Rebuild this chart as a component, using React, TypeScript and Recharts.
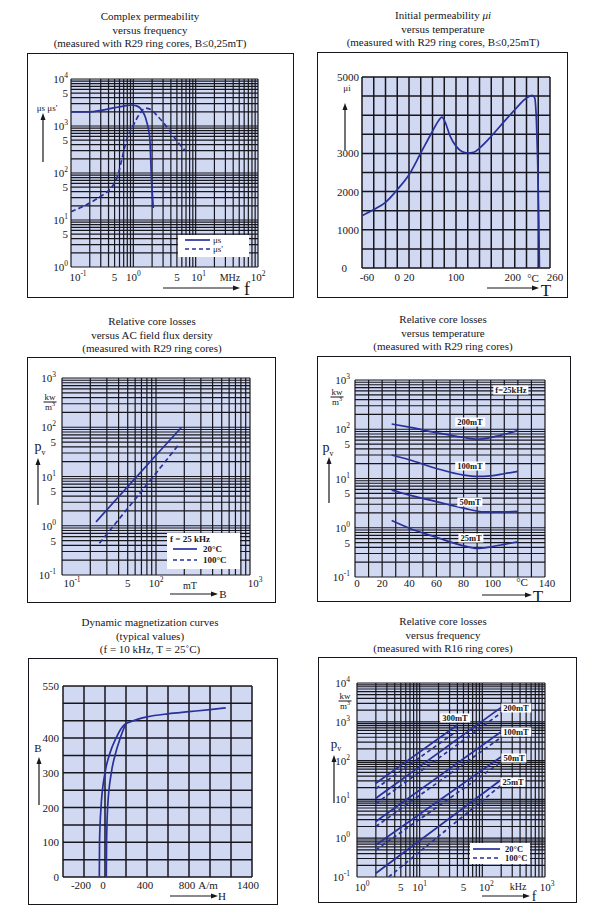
import React from 'react'
import { LineChart, Line, XAxis, YAxis, CartesianGrid } from 'recharts'

const SERIF = '"Liberation Serif", "DejaVu Serif", serif'
const INK = '#16161c'
const BLUE = '#28319b'
const PAPER = '#d1d8f2'

type Lab = { v: number; t: string; s?: string; dx?: number }
type Box = { l: number; t: number; r: number; b: number }

// ---------- complex permeability vs frequency (f in MHz) ----------
const PERM_F_MUS1 = [
  { f: 0.1, mu: 2000 }, { f: 0.2, mu: 2000 }, { f: 0.3, mu: 2150 }, { f: 0.5, mu: 2450 },
  { f: 0.7, mu: 2650 }, { f: 0.94, mu: 2800 }, { f: 1.1, mu: 2700 }, { f: 1.29, mu: 2400 },
  { f: 1.45, mu: 1900 }, { f: 1.55, mu: 1580 }, { f: 1.66, mu: 1150 }, { f: 1.74, mu: 890 },
  { f: 1.85, mu: 470 }, { f: 1.9, mu: 200 }, { f: 1.95, mu: 80 }, { f: 2.02, mu: 35 },
  { f: 2.09, mu: 18 },
]
const PERM_F_MUS2 = [
  { f: 0.1, mu: 15 }, { f: 0.2, mu: 23 }, { f: 0.3, mu: 32 }, { f: 0.42, mu: 45 },
  { f: 0.5, mu: 62 }, { f: 0.58, mu: 100 }, { f: 0.65, mu: 190 }, { f: 0.78, mu: 500 },
  { f: 0.98, mu: 970 }, { f: 1.28, mu: 1870 }, { f: 1.55, mu: 2400 }, { f: 1.9, mu: 2250 },
  { f: 2.37, mu: 1700 }, { f: 3.0, mu: 1200 }, { f: 3.9, mu: 760 }, { f: 5.0, mu: 480 },
  { f: 6.8, mu: 300 },
]
const PERM_F_XLABELS: Lab[] = [
  { v: 0.1, t: '10', s: '-1', dx: 7 }, { v: 0.5, t: '5' }, { v: 1, t: '10', s: '0' },
  { v: 5, t: '5' }, { v: 10, t: '10', s: '1', dx: 3 }, { v: 100, t: '10', s: '2' },
]
const PERM_F_YLABELS: Lab[] = [
  { v: 10000, t: '10', s: '4' }, { v: 5000, t: '5' }, { v: 1000, t: '10', s: '3' },
  { v: 500, t: '5' }, { v: 100, t: '10', s: '2' }, { v: 50, t: '5' },
  { v: 10, t: '10', s: '1' }, { v: 5, t: '5' }, { v: 1, t: '10', s: '0' },
]

// ---------- initial permeability vs temperature (°C) ----------
const PERM_T_CURVE = [
  { t: -60, mu: 1370 }, { t: -40, mu: 1530 }, { t: -20, mu: 1720 }, { t: 0, mu: 2050 },
  { t: 20, mu: 2440 }, { t: 40, mu: 3010 }, { t: 60, mu: 3580 }, { t: 70, mu: 3850 },
  { t: 76, mu: 3950 }, { t: 82, mu: 3800 }, { t: 90, mu: 3450 }, { t: 100, mu: 3190 },
  { t: 110, mu: 3050 }, { t: 120, mu: 3010 }, { t: 130, mu: 3030 }, { t: 140, mu: 3140 },
  { t: 160, mu: 3450 }, { t: 180, mu: 3800 }, { t: 200, mu: 4140 }, { t: 220, mu: 4450 },
  { t: 230, mu: 4520 }, { t: 234, mu: 4450 }, { t: 237, mu: 3800 }, { t: 239, mu: 2800 },
  { t: 241, mu: 1200 }, { t: 242, mu: 0 },
]
const PERM_T_XTICKS = [-60, -40, -20, 0, 20, 40, 60, 80, 100, 120, 140, 160, 180, 200, 220, 240, 260]
const PERM_T_YTICKS = [0, 500, 1000, 1500, 2000, 2500, 3000, 3500, 4000, 4500, 5000]
const PERM_T_XLABELS: Lab[] = [
  { v: -60, t: '-60', dx: 5 }, { v: 0, t: '0' }, { v: 20, t: '20' }, { v: 100, t: '100' },
  { v: 200, t: '200', dx: -2 }, { v: 260, t: '260', dx: 5 },
]
const PERM_T_YLABELS: Lab[] = [
  { v: 0, t: '0', dx: -12 }, { v: 1000, t: '1000' }, { v: 2000, t: '2000' },
  { v: 3000, t: '3000' }, { v: 5000, t: '5000' },
]

// ---------- core losses vs flux density (B in mT, Pv in kW/m³) ----------
const LOSS_B_20C = [{ b: 23, pv: 1.2 }, { b: 100, pv: 27 }, { b: 187, pv: 100 }]
const LOSS_B_100C = [{ b: 25, pv: 0.44 }, { b: 100, pv: 11.7 }, { b: 177, pv: 46 }]
const LOSS_B_XLABELS: Lab[] = [
  { v: 10, t: '10', s: '-1', dx: 10 }, { v: 50, t: '5' }, { v: 100, t: '10', s: '2' },
  { v: 1000, t: '10', s: '3', dx: 5 },
]
const LOSS_YLABELS: Lab[] = [
  { v: 1000, t: '10', s: '3' }, { v: 100, t: '10', s: '2' }, { v: 50, t: '5' },
  { v: 10, t: '10', s: '1' }, { v: 5, t: '5' }, { v: 1, t: '10', s: '0' },
  { v: 0.5, t: '5' }, { v: 0.1, t: '10', s: '-1' },
]

// ---------- core losses vs temperature (f = 25 kHz) ----------
const LOSS_T_200 = [
  { t: 27, pv: 128 }, { t: 40, pv: 110 }, { t: 60, pv: 85 }, { t: 80, pv: 68 },
  { t: 90, pv: 63 }, { t: 100, pv: 68 }, { t: 110, pv: 79 }, { t: 120, pv: 94 },
]
const LOSS_T_100 = [
  { t: 27, pv: 30 }, { t: 40, pv: 24 }, { t: 60, pv: 16 }, { t: 80, pv: 11.7 },
  { t: 90, pv: 11 }, { t: 100, pv: 11.3 }, { t: 110, pv: 12.5 }, { t: 120, pv: 14 },
]
const LOSS_T_50 = [
  { t: 27, pv: 5.8 }, { t: 40, pv: 4.6 }, { t: 60, pv: 3.4 }, { t: 80, pv: 2.5 },
  { t: 95, pv: 2.1 }, { t: 110, pv: 2.1 }, { t: 120, pv: 2.15 },
]
const LOSS_T_25 = [
  { t: 27, pv: 1.4 }, { t: 40, pv: 0.98 }, { t: 60, pv: 0.64 }, { t: 80, pv: 0.43 },
  { t: 90, pv: 0.38 }, { t: 100, pv: 0.41 }, { t: 110, pv: 0.46 }, { t: 120, pv: 0.52 },
]
const LOSS_T_XTICKS = [0, 10, 20, 30, 40, 50, 60, 70, 80, 90, 100, 110, 120, 130, 140]
const LOSS_T_XLABELS: Lab[] = [
  { v: 0, t: '0', dx: 2 }, { v: 20, t: '20' }, { v: 40, t: '40' }, { v: 60, t: '60' },
  { v: 80, t: '80' }, { v: 100, t: '100', dx: 2 }, { v: 140, t: '140', dx: 2 },
]

// ---------- dynamic magnetization (H in A/m, B in mT) ----------
const MAG_LEFT = [
  { h: -54, b: 0 }, { h: -52, b: 100 }, { h: -38, b: 200 }, { h: 0, b: 300 },
  { h: 45, b: 355 }, { h: 105, b: 400 }, { h: 160, b: 430 }, { h: 200, b: 442 },
]
const MAG_RIGHT = [
  { h: 12, b: 0 }, { h: 15, b: 100 }, { h: 25, b: 200 }, { h: 60, b: 300 },
  { h: 95, b: 350 }, { h: 145, b: 400 }, { h: 185, b: 432 }, { h: 200, b: 442 },
]
const MAG_UPPER = [
  { h: 200, b: 442 }, { h: 300, b: 453 }, { h: 400, b: 461 }, { h: 600, b: 470 },
  { h: 800, b: 476 }, { h: 1000, b: 482 }, { h: 1150, b: 487 },
]
const MAG_XTICKS = [-400, -200, 0, 200, 400, 600, 800, 1000, 1200, 1400]
const MAG_YTICKS = [0, 50, 100, 150, 200, 250, 300, 350, 400, 450, 500, 550]
const MAG_XLABELS: Lab[] = [
  { v: -200, t: '-200', dx: -3 }, { v: 0, t: '0', dx: -2 }, { v: 400, t: '400', dx: -2 },
  { v: 800, t: '800', dx: -2 }, { v: 1400, t: '1400', dx: -4 },
]
const MAG_YLABELS: Lab[] = [
  { v: 0, t: '0' }, { v: 100, t: '100' }, { v: 200, t: '200' }, { v: 300, t: '300' },
  { v: 400, t: '400' }, { v: 550, t: '550' },
]

// ---------- core losses vs frequency (f in kHz) ----------
const LOSS_F_300_20C = [{ f: 2, pv: 26 }, { f: 40, pv: 830 }]
const LOSS_F_300_100C = [{ f: 2, pv: 19 }, { f: 42, pv: 620 }]
const LOSS_F_200_20C = [{ f: 2, pv: 10.7 }, { f: 200, pv: 2350 }]
const LOSS_F_200_100C = [{ f: 2, pv: 7.8 }, { f: 205, pv: 1750 }]
const LOSS_F_100_20C = [{ f: 2, pv: 2.7 }, { f: 200, pv: 555 }]
const LOSS_F_100_100C = [{ f: 2, pv: 2.0 }, { f: 205, pv: 410 }]
const LOSS_F_50_20C = [{ f: 2, pv: 0.67 }, { f: 200, pv: 126 }]
const LOSS_F_50_100C = [{ f: 2, pv: 0.5 }, { f: 205, pv: 94 }]
const LOSS_F_25_20C = [{ f: 2, pv: 0.125 }, { f: 200, pv: 32 }]
const LOSS_F_25_100C = [{ f: 3.2, pv: 0.1 }, { f: 205, pv: 24 }]
const LOSS_F_XLABELS: Lab[] = [
  { v: 1, t: '10', s: '0', dx: 5 }, { v: 5, t: '5' }, { v: 10, t: '10', s: '1' },
  { v: 50, t: '5' }, { v: 100, t: '10', s: '2', dx: 4 }, { v: 1000, t: '10', s: '3', dx: 2 },
]
const LOSS_F_YLABELS: Lab[] = [
  { v: 10000, t: '10', s: '4' }, { v: 1000, t: '10', s: '3' }, { v: 100, t: '10', s: '2' },
  { v: 10, t: '10', s: '1' }, { v: 1, t: '10', s: '0' }, { v: 0.1, t: '10', s: '-1' },
]

// ---------- layout ----------
const F1: Box = { l: 27, t: 53, r: 294, b: 298 }
const P1: Box = { l: 71, t: 79, r: 258, b: 267 }
const F2: Box = { l: 317, t: 52, r: 568, b: 298 }
const P2: Box = { l: 362, t: 77, r: 550, b: 268 }
const F3: Box = { l: 27, t: 357, r: 276, b: 603 }
const P3: Box = { l: 62, t: 378, r: 250, b: 575 }
const F4: Box = { l: 317, t: 356, r: 571, b: 602 }
const P4: Box = { l: 355, t: 380, r: 545, b: 577 }
const F5: Box = { l: 28, t: 658, r: 278, b: 905 }
const P5: Box = { l: 63, t: 686, r: 252, b: 877 }
const F6: Box = { l: 318, t: 657, r: 577, b: 903 }
const P6: Box = { l: 357, t: 683, r: 545, b: 877 }

// grid positions for a log axis: 1..9 per decade
function logTicks(from: number, to: number) {
  const out: number[] = []
  for (let e = from; e < to; e++) {
    for (let k = 1; k < 10; k++) out.push(+(k * Math.pow(10, e)).toPrecision(6))
  }
  out.push(+Math.pow(10, to).toPrecision(6))
  return out
}

const findLab = (labels: Lab[], v: number) =>
  labels.find((l) => Math.abs(l.v - v) <= Math.abs(l.v) * 1e-6 + 1e-9)

function tickText(lab: Lab, x: number, y: number, anchor: 'middle' | 'end') {
  return (
    <text x={x} y={y} textAnchor={anchor} fontFamily={SERIF} fontSize={11} fill={INK}>
      {lab.t}
      {lab.s !== undefined && (
        <tspan dy={-5} fontSize={7.5}>
          {lab.s}
        </tspan>
      )}
    </text>
  )
}

function xAxis(key: string, f: Box, p: Box, domain: number[], ticks: number[], labels: Lab[], dy: number, log = false) {
  return {
    type: 'number' as const,
    dataKey: key,
    domain,
    ticks,
    scale: (log ? 'log' : 'linear') as any,
    allowDataOverflow: true,
    interval: 0,
    axisLine: false,
    tickLine: false,
    tickSize: 0,
    tickMargin: 0,
    height: f.b - p.b,
    tick: (t: any) => {
      const lab = findLab(labels, t.payload.value)
      return lab ? tickText(lab, t.x + (lab.dx ?? 0), t.y + dy, 'middle') : <g />
    },
  }
}

function yAxis(f: Box, p: Box, domain: number[], ticks: number[], labels: Lab[], gap: number, log = false) {
  return {
    type: 'number' as const,
    domain,
    ticks,
    scale: (log ? 'log' : 'linear') as any,
    allowDataOverflow: true,
    interval: 0,
    axisLine: false,
    tickLine: false,
    tickSize: 0,
    tickMargin: 0,
    width: p.l - f.l,
    tick: (t: any) => {
      const lab = findLab(labels, t.payload.value)
      return lab ? tickText(lab, t.x - gap + (lab.dx ?? 0), t.y + 4, 'end') : <g />
    },
  }
}

function Plot({ f, p, children }: { f: Box; p: Box; children: React.ReactNode }) {
  const w = f.r - f.l
  const h = f.b - f.t
  return (
    <>
      <div
        style={{
          position: 'absolute', left: f.l, top: f.t, width: w, height: h,
          border: `1.6px solid ${INK}`, boxSizing: 'border-box',
        }}
      />
      <div style={{ position: 'absolute', left: f.l, top: f.t }}>
        <LineChart width={w} height={h} margin={{ top: p.t - f.t, right: f.r - p.r, bottom: 0, left: 0 }}>
          {children}
        </LineChart>
      </div>
    </>
  )
}

const grid = <CartesianGrid fill={PAPER} fillOpacity={1} stroke={INK} strokeWidth={1.2} />

function Title({ cx, y, lines }: { cx: number; y: number; lines: React.ReactNode[] }) {
  return (
    <div
      style={{
        position: 'absolute', left: cx - 150, top: y - 7, width: 300, textAlign: 'center',
        fontSize: 11, lineHeight: '13.5px', whiteSpace: 'nowrap',
      }}
    >
      {lines.map((l, i) => (
        <div key={i}>{l}</div>
      ))}
    </div>
  )
}

function Txt({ x, y, size = 11, bold = false, anchor = 'middle', children }: any) {
  const tx = anchor === 'middle' ? '-50%' : anchor === 'end' ? '-100%' : '0'
  return (
    <div
      style={{
        position: 'absolute', left: x, top: y, transform: `translate(${tx}, -50%)`,
        fontSize: size, fontWeight: bold ? 700 : 400, whiteSpace: 'nowrap', lineHeight: 1,
      }}
    >
      {children}
    </div>
  )
}

function Tag({ x, y, children }: any) {
  return (
    <div
      style={{
        position: 'absolute', left: x, top: y, transform: 'translate(-50%, -50%)',
        background: '#fff', fontSize: 8.5, fontWeight: 700, lineHeight: '9px', padding: '0 2px',
        whiteSpace: 'nowrap',
      }}
    >
      {children}
    </div>
  )
}

function KwM3({ x, y }: { x: number; y: number }) {
  return (
    <div
      style={{
        position: 'absolute', left: x, top: y, transform: 'translate(-50%, -50%)',
        fontSize: 9, lineHeight: '9px', textAlign: 'center',
      }}
    >
      <div style={{ borderBottom: `1px solid ${INK}`, padding: '0 1px' }}>kw</div>
      <div>
        m<sup style={{ fontSize: 6, lineHeight: 0 }}>3</sup>
      </div>
    </div>
  )
}

const Pv = ({ x, y, size = 14 }: { x: number; y: number; size?: number }) => (
  <Txt x={x} y={y} size={size}>
    p<sub style={{ fontSize: 8, lineHeight: 0 }}>v</sub>
  </Txt>
)

const WHITE_BOXES: Box[] = [
  { l: 178, t: 235, r: 249, b: 257 },
  { l: 167, t: 533, r: 240, b: 569 },
  { l: 470, t: 843, r: 530, b: 864 },
]
const LEGEND_SAMPLES = [
  { x1: 185, x2: 210, y: 240, dash: '' },
  { x1: 185, x2: 210, y: 249, dash: '4 3' },
  { x1: 173, x2: 197, y: 549, dash: '' },
  { x1: 173, x2: 197, y: 560, dash: '4 3' },
  { x1: 473, x2: 500, y: 849, dash: '' },
  { x1: 473, x2: 500, y: 858, dash: '4 3' },
]
const ARROWS = [
  [43, 162, 43, 113], [163, 288, 240, 288],
  [345, 150, 345, 103], [487, 288, 539, 288],
  [38, 505, 38, 458], [170, 594, 218, 594],
  [329, 503, 329, 457], [482, 595, 532, 595],
  [39, 805, 39, 757], [170, 896, 218, 896],
  [334, 803, 334, 755], [482, 896, 530, 896],
]

function Overlay() {
  return (
    <svg width={600} height={917} style={{ position: 'absolute', left: 0, top: 0, pointerEvents: 'none' }}>
      {LEGEND_SAMPLES.map((s, i) => (
        <line key={i} x1={s.x1} x2={s.x2} y1={s.y} y2={s.y} stroke={BLUE} strokeWidth={1.7} strokeDasharray={s.dash || undefined} />
      ))}
      {ARROWS.map(([x1, y1, x2, y2], i) => {
        const dx = Math.sign(x2 - x1)
        const dy = Math.sign(y2 - y1)
        const head = dx !== 0
          ? `${x2},${y2} ${x2 - dx * 7},${y2 - 2.5} ${x2 - dx * 7},${y2 + 2.5}`
          : `${x2},${y2} ${x2 - 2.5},${y2 - dy * 7} ${x2 + 2.5},${y2 - dy * 7}`
        return (
          <g key={i}>
            <line x1={x1} y1={y1} x2={x2 - dx * 5} y2={y2 - dy * 5} stroke={INK} strokeWidth={1.2} />
            <polygon points={head} fill={INK} />
          </g>
        )
      })}
    </svg>
  )
}

const lineProps = { dot: false, isAnimationActive: false, stroke: BLUE, strokeWidth: 1.7 }

export default function App() {
  return (
    <div
      style={{
        position: 'absolute', left: 0, top: 0, width: 600, height: 917, background: '#fff',
        fontFamily: SERIF, color: INK, overflow: 'hidden',
      }}
    >
      <Title cx={150} y={17} lines={['Complex permeability', 'versus frequency', '(measured with R29 ring cores, B≤0,25mT)']} />
      <Title
        cx={443}
        y={16}
        lines={[<>Initial permeability <i>μi</i></>, 'versus temperature', '(measured with R29 ring cores, B≤0,25mT)']}
      />
      <Title cx={152} y={322} lines={['Relative core losses', 'versus AC field flux dersity', '(measured with R29 ring cores)']} />
      <Title cx={443} y={320} lines={['Relative core losses', 'versus temperature', '(measured with R29 ring cores)']} />
      <Title cx={150} y={623} lines={['Dynamic magnetization curves', '(typical values)', '(f = 10 kHz, T = 25˚C)']} />
      <Title cx={443} y={622} lines={['Relative core losses', 'versus frequency', '(measured with R16 ring cores)']} />

      <Plot f={F1} p={P1}>
        {grid}
        <XAxis {...xAxis('f', F1, P1, [0.1, 100], logTicks(-1, 2), PERM_F_XLABELS, 14, true)} />
        <YAxis {...yAxis(F1, P1, [1, 10000], logTicks(0, 4), PERM_F_YLABELS, 3, true)} />
        <Line {...lineProps} data={PERM_F_MUS1} dataKey="mu" type="monotone" />
        <Line {...lineProps} data={PERM_F_MUS2} dataKey="mu" type="monotone" strokeDasharray="5 3" />
      </Plot>

      <Plot f={F2} p={P2}>
        <CartesianGrid fill={PAPER} fillOpacity={1} stroke={INK} strokeWidth={1.5} />
        <XAxis {...xAxis('t', F2, P2, [-60, 260], PERM_T_XTICKS, PERM_T_XLABELS, 13)} />
        <YAxis {...yAxis(F2, P2, [0, 5000], PERM_T_YTICKS, PERM_T_YLABELS, 3)} />
        <Line {...lineProps} data={PERM_T_CURVE} dataKey="mu" type="monotone" />
      </Plot>

      <Plot f={F3} p={P3}>
        {grid}
        <XAxis {...xAxis('b', F3, P3, [10, 1000], logTicks(1, 3), LOSS_B_XLABELS, 12, true)} />
        <YAxis {...yAxis(F3, P3, [0.1, 1000], logTicks(-1, 3), LOSS_YLABELS, 6, true)} />
        <Line {...lineProps} data={LOSS_B_20C} dataKey="pv" type="monotone" />
        <Line {...lineProps} data={LOSS_B_100C} dataKey="pv" type="monotone" strokeDasharray="5 3" />
      </Plot>

      <Plot f={F4} p={P4}>
        {grid}
        <XAxis {...xAxis('t', F4, P4, [0, 140], LOSS_T_XTICKS, LOSS_T_XLABELS, 9.5)} />
        <YAxis {...yAxis(F4, P4, [0.1, 1000], logTicks(-1, 3), LOSS_YLABELS, 5, true)} />
        <Line {...lineProps} data={LOSS_T_200} dataKey="pv" type="monotone" />
        <Line {...lineProps} data={LOSS_T_100} dataKey="pv" type="monotone" />
        <Line {...lineProps} data={LOSS_T_50} dataKey="pv" type="monotone" />
        <Line {...lineProps} data={LOSS_T_25} dataKey="pv" type="monotone" />
      </Plot>

      <Plot f={F5} p={P5}>
        <CartesianGrid fill={PAPER} fillOpacity={1} stroke={INK} strokeWidth={1.5} />
        <XAxis {...xAxis('h', F5, P5, [-400, 1400], MAG_XTICKS, MAG_XLABELS, 12)} />
        <YAxis {...yAxis(F5, P5, [0, 550], MAG_YTICKS, MAG_YLABELS, 4)} />
        <Line {...lineProps} data={MAG_LEFT} dataKey="b" type="monotone" />
        <Line {...lineProps} data={MAG_RIGHT} dataKey="b" type="monotone" />
        <Line {...lineProps} data={MAG_UPPER} dataKey="b" type="monotone" />
      </Plot>

      <Plot f={F6} p={P6}>
        {grid}
        <XAxis {...xAxis('f', F6, P6, [1, 1000], logTicks(0, 3), LOSS_F_XLABELS, 14, true)} />
        <YAxis {...yAxis(F6, P6, [0.1, 10000], logTicks(-1, 4), LOSS_F_YLABELS, 7, true)} />
        <Line {...lineProps} data={LOSS_F_300_20C} dataKey="pv" type="linear" />
        <Line {...lineProps} data={LOSS_F_300_100C} dataKey="pv" type="linear" strokeDasharray="4 3" />
        <Line {...lineProps} data={LOSS_F_200_20C} dataKey="pv" type="linear" />
        <Line {...lineProps} data={LOSS_F_200_100C} dataKey="pv" type="linear" strokeDasharray="4 3" />
        <Line {...lineProps} data={LOSS_F_100_20C} dataKey="pv" type="linear" />
        <Line {...lineProps} data={LOSS_F_100_100C} dataKey="pv" type="linear" strokeDasharray="4 3" />
        <Line {...lineProps} data={LOSS_F_50_20C} dataKey="pv" type="linear" />
        <Line {...lineProps} data={LOSS_F_50_100C} dataKey="pv" type="linear" strokeDasharray="4 3" />
        <Line {...lineProps} data={LOSS_F_25_20C} dataKey="pv" type="linear" />
        <Line {...lineProps} data={LOSS_F_25_100C} dataKey="pv" type="linear" strokeDasharray="4 3" />
      </Plot>

      {WHITE_BOXES.map((b, i) => (
        <div key={i} style={{ position: 'absolute', left: b.l, top: b.t, width: b.r - b.l, height: b.b - b.t, background: '#fff' }} />
      ))}

      <Overlay />

      {/* panel 1 */}
      <Txt x={47} y={108} size={9}>μs μs'</Txt>
      <Txt x={230} y={278} size={10}>MHz</Txt>
      <Txt x={247} y={289} size={18}>f</Txt>
      <Txt x={213} y={240} size={9} anchor="start">μs</Txt>
      <Txt x={213} y={249} size={9} anchor="start">μs'</Txt>

      {/* panel 2 */}
      <Txt x={347} y={88} size={9}>μi</Txt>
      <Txt x={533} y={278} size={11}>°C</Txt>
      <Txt x={546} y={290} size={17}>T</Txt>

      {/* panel 3 */}
      <KwM3 x={50} y={402} />
      <Pv x={40} y={447} />
      <Txt x={190} y={586} size={10}>mT</Txt>
      <Txt x={223} y={594} size={11}>B</Txt>
      <Txt x={170} y={539} size={9} bold anchor="start">f = 25 kHz</Txt>
      <Txt x={203} y={549} size={9} bold anchor="start">20°C</Txt>
      <Txt x={203} y={560} size={9} bold anchor="start">100°C</Txt>

      {/* panel 4 */}
      <KwM3 x={337} y={397} />
      <Pv x={328} y={448} />
      <Txt x={522} y={582} size={11}>°C</Txt>
      <Txt x={538} y={596} size={17}>T</Txt>
      <Tag x={511} y={390}>f=25kHz</Tag>
      <Tag x={470} y={422}>200mT</Tag>
      <Tag x={470} y={466}>100mT</Tag>
      <Tag x={470} y={502}>50mT</Tag>
      <Tag x={471} y={538}>25mT</Tag>

      {/* panel 5 */}
      <Txt x={38} y={748} size={11}>B</Txt>
      <Txt x={208} y={885} size={11}>A/m</Txt>
      <Txt x={222} y={896} size={11}>H</Txt>

      {/* panel 6 */}
      <KwM3 x={345} y={701} />
      <Pv x={336} y={743} size={13} />
      <Txt x={518} y={887} size={10}>kHz</Txt>
      <Txt x={534} y={897} size={14}>f</Txt>
      <Tag x={455} y={718}>300mT</Tag>
      <Tag x={516} y={708}>200mT</Tag>
      <Tag x={516} y={732}>100mT</Tag>
      <Tag x={514} y={758}>50mT</Tag>
      <Tag x={513} y={782}>25mT</Tag>
      <Txt x={505} y={849} size={8.5} bold anchor="start">20°C</Txt>
      <Txt x={505} y={858} size={8.5} bold anchor="start">100°C</Txt>
    </div>
  )
}
